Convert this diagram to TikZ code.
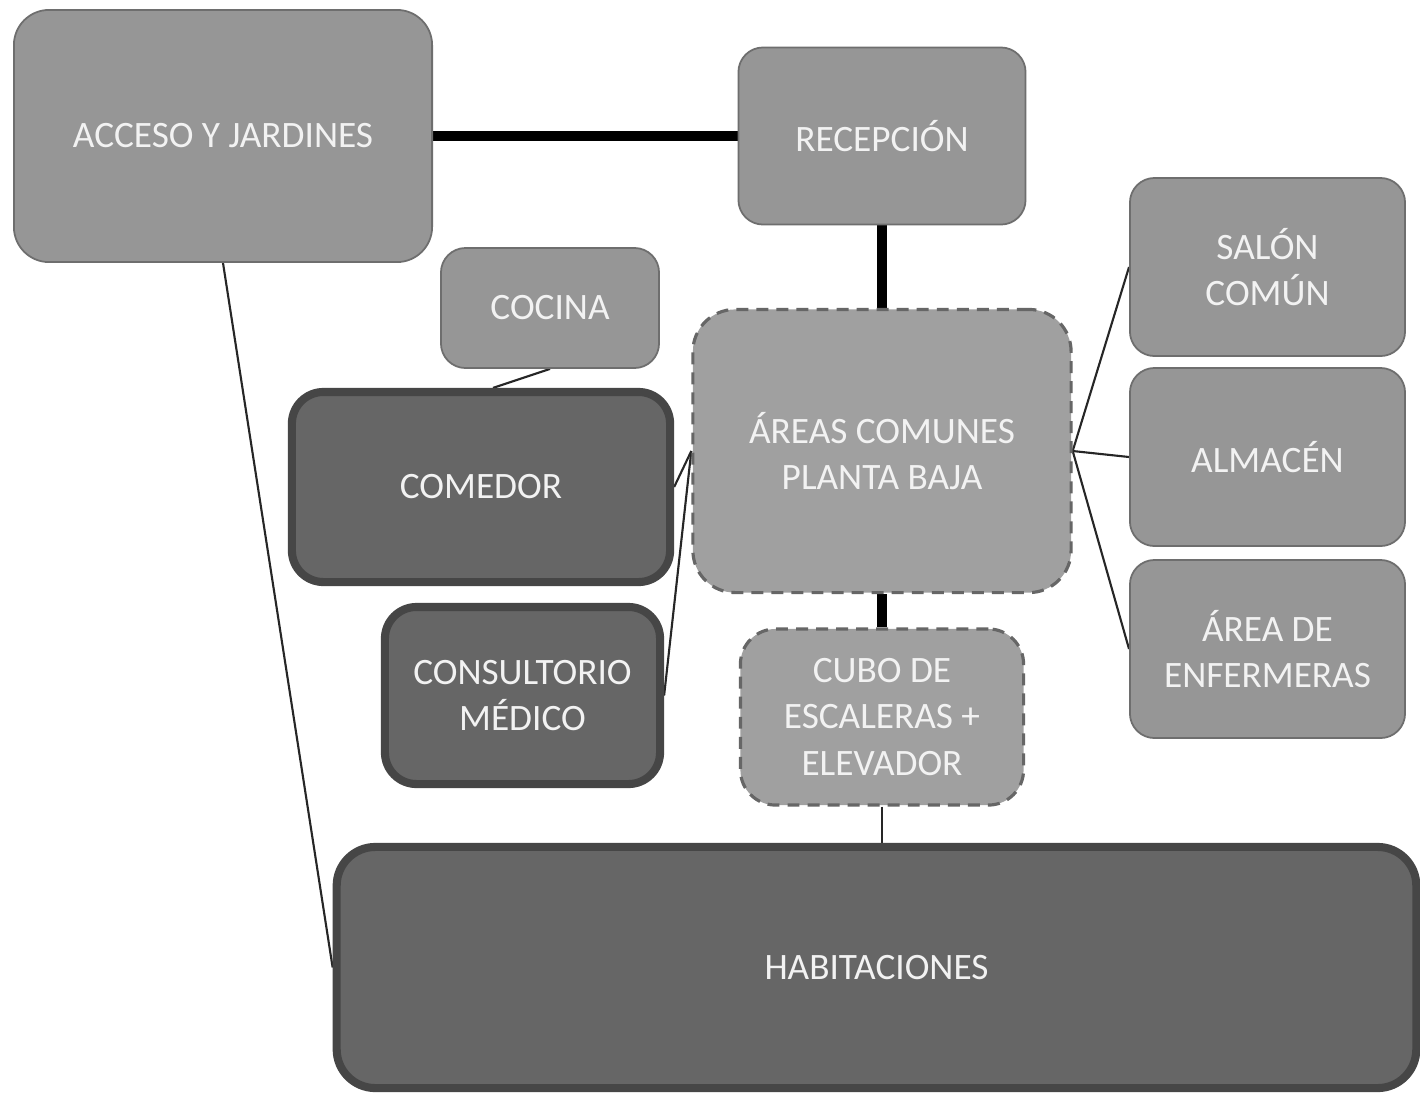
\documentclass[tikz,border=0pt]{standalone}
\usepackage{fontspec}
\setmainfont{Carlito}
\usetikzlibrary{backgrounds,calc}
\definecolor{lightfill}{HTML}{969696}
\definecolor{lightline}{HTML}{6E6E6E}
\definecolor{dashfill}{HTML}{A0A0A0}
\definecolor{dashline}{HTML}{666666}
\definecolor{darkfill}{HTML}{666666}
\definecolor{darkline}{HTML}{464646}
\definecolor{txt}{HTML}{F2F2F2}
\tikzset{
  base/.style={rectangle, inner sep=0pt, align=center, text=txt,
    font=\fontsize{10.6}{13.1}\selectfont},
  lightbox/.style={base, fill=lightfill, draw=lightline, line width=0.5pt, rounded corners=7pt},
  dashbox/.style={base, fill=dashfill, draw=dashline, line width=0.9pt,
    dash pattern=on 3.4pt off 2.3pt, rounded corners=10pt},
  darkbox/.style={base, fill=darkfill, draw=darkline, line width=2.3pt, rounded corners=9pt},
  thickcon/.style={draw=black, line width=2.6pt},
  thincon/.style={draw=black!85, line width=0.6pt},
}
\begin{document}
\begin{tikzpicture}[x=0.01cm, y=-0.01cm]
\useasboundingbox (0,0) rectangle (1420,1096);
\node[lightbox, rounded corners=10pt, minimum width=4.18cm, minimum height=2.52cm] (acceso) at (223,136) {ACCESO Y JARDINES};
\node[lightbox, minimum width=2.87cm, minimum height=1.77cm] (recep) at (882,136) {RECEPCIÓN};
\node[lightbox, minimum width=2.18cm, minimum height=1.20cm] (cocina) at (550,308) {COCINA};
\node[darkbox, minimum width=3.78cm, minimum height=1.90cm] (comedor) at (481,487) {COMEDOR};
\node[dashbox, rounded corners=12pt, minimum width=3.78cm, minimum height=2.83cm] (areas) at (882,451) {ÁREAS COMUNES\\PLANTA BAJA};
\node[lightbox, minimum width=2.75cm, minimum height=1.78cm] (salon) at (1267.5,267) {SALÓN\\COMÚN};
\node[lightbox, minimum width=2.75cm, minimum height=1.78cm] (almacen) at (1267.5,457) {ALMACÉN};
\node[lightbox, minimum width=2.75cm, minimum height=1.78cm] (enf) at (1267.5,649) {ÁREA DE\\ENFERMERAS};
\node[darkbox, minimum width=2.75cm, minimum height=1.77cm] (consult) at (522.5,695.5) {CONSULTORIO\\MÉDICO};
\node[dashbox, minimum width=2.83cm, minimum height=1.76cm] (cubo) at (882,717) {CUBO DE\\ESCALERAS +\\ELEVADOR};
\node[darkbox, rounded corners=11pt, minimum width=10.79cm, minimum height=2.41cm] (habit) at (876.5,967.5) {HABITACIONES};
\begin{scope}[on background layer]
\fill[white] (0,0) rectangle (1420,1096);
\draw[thickcon] (acceso.east) -- (recep.west);
\draw[thickcon] (recep.south) -- (areas.north);
\draw[thickcon] (areas.south) -- (cubo.north);
\draw[thincon] (cubo.south) -- (cubo.south |- habit.north);
\draw[thincon] (acceso.south) -- (habit.west);
\draw[thincon] (cocina.south) -- ($(comedor.north)+(12,0)$);
\draw[thincon] (comedor.east) -- (areas.west);
\draw[thincon] (consult.east) -- (areas.west);
\draw[thincon] (areas.east) -- (salon.west);
\draw[thincon] (areas.east) -- (almacen.west);
\draw[thincon] (areas.east) -- (enf.west);
\end{scope}
\end{tikzpicture}
\end{document}
